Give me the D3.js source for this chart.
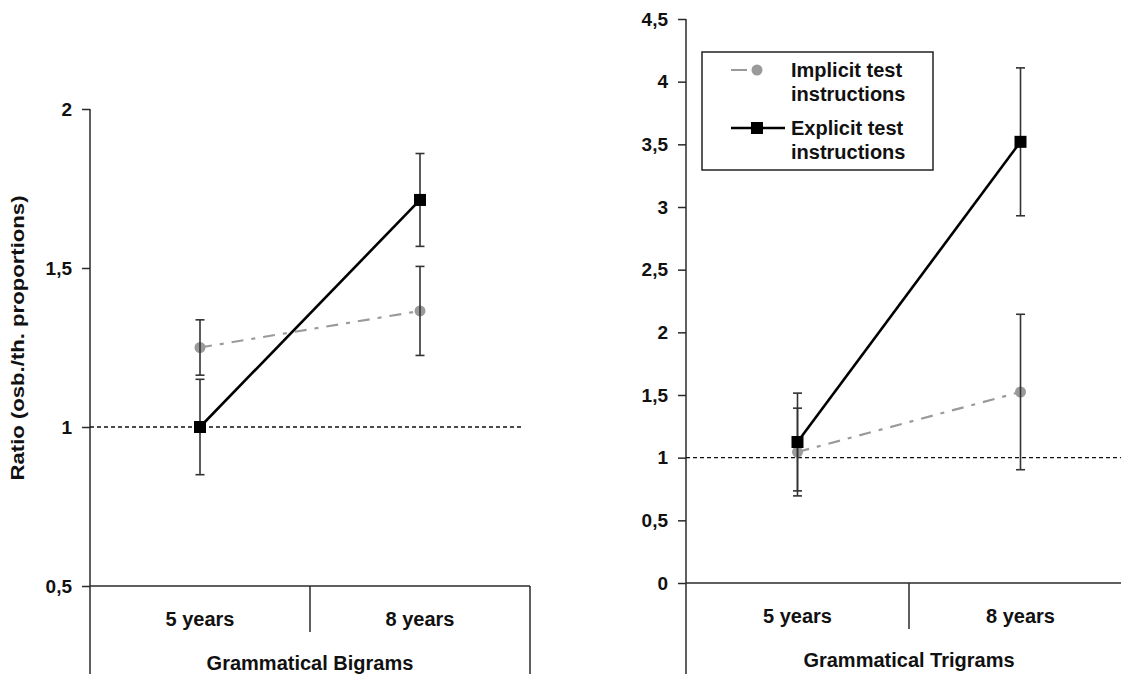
<!DOCTYPE html>
<html><head><meta charset="utf-8">
<script src="https://cdn.jsdelivr.net/npm/d3@7"></script>
<style>
html,body{margin:0;padding:0;background:#fff;}
svg{display:block;font-family:"Liberation Sans",Arial,sans-serif;}
</style></head>
<body>
<svg id="c" width="1121" height="674"></svg>
<script>
const categories = ["5 years", "8 years"];
const seriesNames = ["Implicit test instructions", "Explicit test instructions"];

const bigramImplicit = [1.25, 1.365];
const bigramImplicitErr = [0.087, 0.14];
const bigramExplicit = [1.0, 1.714];
const bigramExplicitErr = [0.15, 0.146];

const trigramImplicit = [1.045, 1.524];
const trigramImplicitErr = [0.35, 0.62];
const trigramExplicit = [1.125, 3.52];
const trigramExplicitErr = [0.39, 0.59];

const bigramTicks = [0.5, 1, 1.5, 2];
const trigramTicks = [0, 0.5, 1, 1.5, 2, 2.5, 3, 3.5, 4, 4.5];
const referenceValue = 1;

const svg = d3.select("#c");
const fmt = v => String(v).replace(".", ",");
const AX = "#2a2a2a";
const TXT = "#111";

function panel(cfg) {
  const g = svg.append("g");
  const x = d3.scaleBand().domain(categories).range([cfg.x0, cfg.x1]);
  const y = d3.scaleLinear().domain(cfg.domain).range([cfg.yBottom, cfg.yTop]);

  // y axis
  const ya = g.append("g").attr("transform", `translate(${cfg.x0},0)`)
    .call(d3.axisLeft(y).tickValues(cfg.ticks).tickFormat(fmt).tickSize(8).tickPadding(10));
  ya.select(".domain").remove();
  ya.selectAll(".tick line").attr("stroke", AX).attr("stroke-width", 1.5);
  ya.selectAll(".tick text").attr("font-size", 19).attr("font-weight", "bold")
    .attr("fill", TXT).attr("font-family", '"Liberation Sans",Arial,sans-serif');
  g.append("line").attr("x1", cfg.x0).attr("x2", cfg.x0).attr("y1", cfg.yTop).attr("y2", 674)
    .attr("stroke", AX).attr("stroke-width", 1.5);

  // x axis
  g.append("line").attr("x1", cfg.x0).attr("x2", cfg.x1).attr("y1", cfg.yBottom).attr("y2", cfg.yBottom)
    .attr("stroke", AX).attr("stroke-width", 1.5);
  g.append("line").attr("x1", x(categories[1])).attr("x2", x(categories[1]))
    .attr("y1", cfg.yBottom).attr("y2", cfg.yBottom + 46).attr("stroke", AX).attr("stroke-width", 1.5);
  g.append("line").attr("x1", cfg.x1).attr("x2", cfg.x1).attr("y1", cfg.yBottom).attr("y2", 674)
    .attr("stroke", AX).attr("stroke-width", 1.5);
  g.selectAll("text.cat").data(categories).enter().append("text")
    .attr("x", d => x(d) + x.bandwidth() / 2).attr("y", cfg.yBottom + 40)
    .attr("text-anchor", "middle").attr("font-size", 20).attr("font-weight", "bold").attr("fill", TXT)
    .text(d => d);
  g.append("text").attr("x", (cfg.x0 + cfg.x1) / 2).attr("y", cfg.yBottom + 84)
    .attr("text-anchor", "middle").attr("font-size", 20).attr("font-weight", "bold").attr("fill", TXT)
    .text(cfg.title);

  // reference line
  g.append("line").attr("x1", cfg.x0).attr("x2", cfg.refEnd)
    .attr("y1", y(referenceValue)).attr("y2", y(referenceValue))
    .attr("stroke", "#111").attr("stroke-width", 1.3).attr("stroke-dasharray", "4,3");

  const cx = d => x(d) + x.bandwidth() / 2;
  const line = d3.line().x(d => cx(d.c)).y(d => y(d.v));
  const imp = categories.map((c, i) => ({c, v: cfg.imp[i], e: cfg.impErr[i]}));
  const exp = categories.map((c, i) => ({c, v: cfg.exp[i], e: cfg.expErr[i]}));

  g.append("path").datum(imp).attr("d", line).attr("fill", "none")
    .attr("stroke", "#9a9a9a").attr("stroke-width", 2.2).attr("stroke-dasharray", "12,8,4,8");
  g.append("path").datum(exp).attr("d", line).attr("fill", "none")
    .attr("stroke", "#000").attr("stroke-width", 2.6);

  g.selectAll("circle.imp").data(imp).enter().append("circle")
    .attr("cx", d => cx(d.c)).attr("cy", d => y(d.v)).attr("r", 5.5).attr("fill", "#9a9a9a");

  [imp, exp].forEach(s => {
    s.forEach(d => {
      const xx = cx(d.c);
      g.append("line").attr("x1", xx).attr("x2", xx).attr("y1", y(d.v + d.e)).attr("y2", y(d.v - d.e))
        .attr("stroke", "#333").attr("stroke-width", 1.6);
      [d.v + d.e, d.v - d.e].forEach(v => {
        g.append("line").attr("x1", xx - 4.5).attr("x2", xx + 4.5).attr("y1", y(v)).attr("y2", y(v))
          .attr("stroke", "#333").attr("stroke-width", 1.6);
      });
    });
  });

  g.selectAll("rect.exp").data(exp).enter().append("rect")
    .attr("x", d => cx(d.c) - 6).attr("y", d => y(d.v) - 6).attr("width", 12).attr("height", 12)
    .attr("fill", "#000");
  return {x, y};
}

panel({x0: 90, x1: 530, yTop: 109, yBottom: 586, domain: [0.5, 2], ticks: bigramTicks,
  title: "Grammatical Bigrams", refEnd: 523,
  imp: bigramImplicit, impErr: bigramImplicitErr, exp: bigramExplicit, expErr: bigramExplicitErr});
panel({x0: 686, x1: 1132, yTop: 19, yBottom: 583, domain: [0, 4.5], ticks: trigramTicks,
  title: "Grammatical Trigrams", refEnd: 1121,
  imp: trigramImplicit, impErr: trigramImplicitErr, exp: trigramExplicit, expErr: trigramExplicitErr});

// y axis title
svg.append("text").attr("transform", "translate(24,338) rotate(-90)")
  .attr("text-anchor", "middle").attr("font-size", 19).attr("font-weight", "bold").attr("fill", TXT)
  .attr("textLength", 285).attr("lengthAdjust", "spacingAndGlyphs")
  .text("Ratio (osb./th. proportions)");

// legend
const lg = svg.append("g");
lg.append("rect").attr("x", 702).attr("y", 52).attr("width", 231).attr("height", 118)
  .attr("fill", "#fff").attr("stroke", "#222").attr("stroke-width", 1.5);
const legendRows = [
  {name: seriesNames[0], y: 70, kind: "imp"},
  {name: seriesNames[1], y: 128, kind: "exp"}
];
legendRows.forEach(r => {
  if (r.kind === "imp") {
    lg.append("line").attr("x1", 731).attr("x2", 782).attr("y1", r.y).attr("y2", r.y)
      .attr("stroke", "#9a9a9a").attr("stroke-width", 2.2).attr("stroke-dasharray", "16,7,4,30");
    lg.append("circle").attr("cx", 757).attr("cy", r.y).attr("r", 5.5).attr("fill", "#9a9a9a");
  } else {
    lg.append("line").attr("x1", 731).attr("x2", 785).attr("y1", r.y).attr("y2", r.y)
      .attr("stroke", "#000").attr("stroke-width", 2.6);
    lg.append("rect").attr("x", 751).attr("y", r.y - 6).attr("width", 12).attr("height", 12).attr("fill", "#000");
  }
  const words = r.name.split(" ");
  const t = lg.append("text").attr("x", 791).attr("y", r.y + 7).attr("font-size", 20)
    .attr("font-weight", "bold").attr("fill", TXT);
  t.append("tspan").attr("x", 791).attr("dy", 0).text(words.slice(0, 2).join(" "));
  t.append("tspan").attr("x", 791).attr("dy", 24).text(words.slice(2).join(" "));
});
</script>
</body></html>
